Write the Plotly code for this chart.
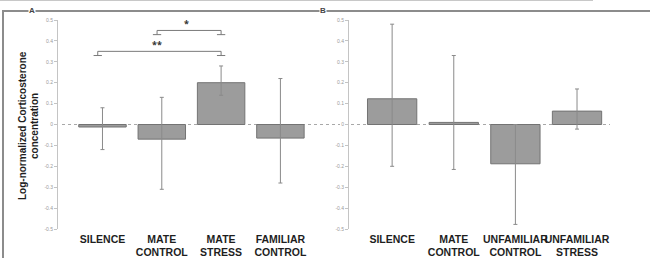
import plotly.graph_objects as go

# ---------------- data ----------------
cats_a = ["SILENCE", "MATE<br>CONTROL", "MATE<br>STRESS", "FAMILIAR<br>CONTROL"]
mean_a = [-0.012, -0.07, 0.20, -0.065]
upper_a = [0.08, 0.13, 0.28, 0.22]
lower_a = [-0.12, -0.31, 0.14, -0.28]

cats_b = ["SILENCE", "MATE<br>CONTROL", "UNFAMILIAR<br>CONTROL", "UNFAMILIAR<br>STRESS"]
mean_b = [0.123, 0.01, -0.188, 0.064]
upper_b = [0.48, 0.33, 0.0, 0.17]
lower_b = [-0.20, -0.215, -0.478, -0.022]

# significance brackets (panel A): (left idx, right idx, level, label)
brackets = [(0, 2, 0.35, "**"), (1, 2, 0.45, "*")]

ytick_vals = [0.5, 0.4, 0.3, 0.2, 0.1, 0, -0.1, -0.2, -0.3, -0.4, -0.5]
ytick_text = ["0.5", "0.4", "0.3", "0.2", "0.1", "0", "-0.1", "-0.2", "-0.3", "-0.4", "-0.5"]

W, H = 650, 258
BAR = "#9c9c9c"
BAR_LINE = "#737373"
ERR = "#8a8a8a"


def px(x):
    return x / W


def py(y):
    return 1 - y / H


fig = go.Figure()


def add_panel(cats, mean, upper, lower, xa, ya):
    fig.add_trace(go.Bar(
        x=cats, y=mean, width=0.8,
        marker=dict(color=BAR, line=dict(color=BAR_LINE, width=1)),
        error_y=dict(type="data", symmetric=False,
                     array=[u - m for u, m in zip(upper, mean)],
                     arrayminus=[m - l for m, l in zip(mean, lower)],
                     color=ERR, thickness=1, width=2),
        xaxis=xa, yaxis=ya, showlegend=False))


add_panel(cats_a, mean_a, upper_a, lower_a, "x", "y")
add_panel(cats_b, mean_b, upper_b, lower_b, "x2", "y2")

yax = dict(range=[-0.5, 0.5], tickvals=ytick_vals, ticktext=ytick_text,
           showline=True, linecolor="#c4c4c4", linewidth=1,
           ticks="outside", ticklen=3, tickcolor="#c4c4c4",
           tickfont=dict(size=5, color="#9a9a9a", family="Liberation Sans"),
           showgrid=False, zeroline=False, automargin=False)
xax = dict(showline=False, ticks="", showgrid=False, zeroline=False,
           tickfont=dict(size=10.5, color="#1e1e1e", family="Liberation Sans", weight="bold"),
           ticklabelstandoff=2, tickangle=0, automargin=False)

ydom = [py(229), py(20)]
fig.update_layout(
    width=W, height=H, margin=dict(l=0, r=0, t=0, b=0, autoexpand=False),
    paper_bgcolor="white", plot_bgcolor="rgba(0,0,0,0)",
    xaxis=dict(xax, domain=[px(58), px(316)], range=[-0.75, 3.6], anchor="y"),
    yaxis=dict(yax, domain=ydom, anchor="x"),
    xaxis2=dict(xax, domain=[px(349), px(614)], range=[-0.7, 3.6], anchor="y2"),
    yaxis2=dict(yax, domain=ydom, anchor="x2"),
    bargap=0.2,
)

shapes = []
# dotted zero lines
shapes.append(dict(type="line", xref="paper", yref="y", x0=px(62), x1=px(340), y0=0, y1=0,
                   line=dict(color="#a8a8a8", width=1, dash="dot"), layer="below"))
shapes.append(dict(type="line", xref="paper", yref="y2", x0=px(351), x1=px(610), y0=0, y1=0,
                   line=dict(color="#a8a8a8", width=1, dash="dot"), layer="below"))

# brackets
ann = []
for i0, i1, lvl, lab in brackets:
    drop = 0.02
    cap = 0.07
    lc = dict(color="#7a7a7a", width=1)
    shapes.append(dict(type="line", xref="x", yref="y", x0=i0 - 0.08, x1=i1, y0=lvl, y1=lvl, line=lc))
    for xi in (i0 - 0.08, i1):
        shapes.append(dict(type="line", xref="x", yref="y", x0=xi, x1=xi, y0=lvl, y1=lvl - drop, line=lc))
        shapes.append(dict(type="line", xref="x", yref="y", x0=xi - cap, x1=xi + cap,
                           y0=lvl - drop, y1=lvl - drop, line=lc))
    ann.append(dict(x=(i0 + i1) / 2 - 0.08, y=lvl, xref="x", yref="y", text="<b>" + lab + "</b>",
                    showarrow=False, yanchor="bottom", xanchor="center",
                    font=dict(size=9, color="#333"), yshift=-2))

# frame lines
shapes.append(dict(type="line", xref="paper", yref="paper", x0=0, x1=px(593), y0=py(0.5), y1=py(0.5),
                   line=dict(color="#c8c8c8", width=1)))
shapes.append(dict(type="line", xref="paper", yref="paper", x0=px(2), x1=1, y0=py(11), y1=py(11),
                   line=dict(color="#8c8c8c", width=2)))
shapes.append(dict(type="line", xref="paper", yref="paper", x0=px(3), x1=px(3), y0=py(11), y1=0,
                   line=dict(color="#8c8c8c", width=2)))
fig.update_layout(shapes=shapes)

# axis title
tf = dict(size=10, color="#1e1e1e", family="Liberation Sans")
ann.append(dict(x=px(22), y=py(126), xref="paper", yref="paper", text="<b>Log-normalized Corticosterone</b>",
                textangle=-90, showarrow=False, xanchor="center", yanchor="middle", font=tf))
ann.append(dict(x=px(34), y=py(126), xref="paper", yref="paper", text="<b>concentration</b>",
                textangle=-90, showarrow=False, xanchor="center", yanchor="middle", font=tf))
# panel letters
for lx, lab in ((32, "A"), (323, "B")):
    ann.append(dict(x=px(lx), y=py(11), xref="paper", yref="paper", text="<b>" + lab + "</b>",
                    showarrow=False, bgcolor="white", borderpad=0, xanchor="center", yanchor="middle",
                    font=dict(size=8, color="#444", family="Liberation Sans")))
fig.update_layout(annotations=ann)

fig.write_html("out.html", config={"displayModeBar": False},
               post_script="document.body.style.margin='0';")
